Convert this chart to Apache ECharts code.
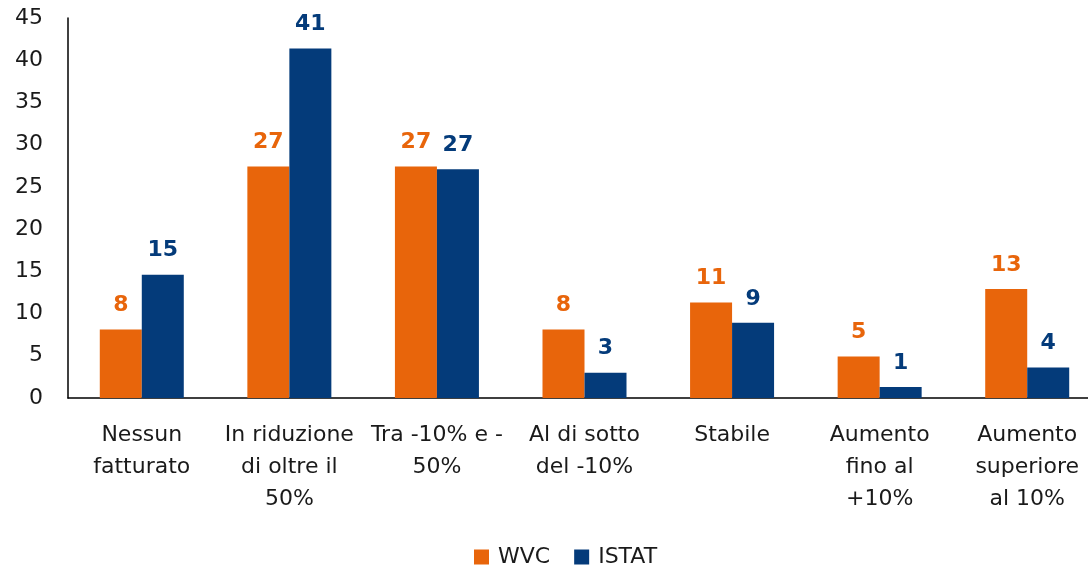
<!DOCTYPE html>
<html><head><meta charset="utf-8">
<script src="https://cdn.jsdelivr.net/npm/echarts@6/dist/echarts.min.js"></script>
<style>html,body{margin:0;padding:0;background:#fff;overflow:hidden}body{width:1088px;height:565px}#c{width:1110px;height:565px}</style>
</head><body><div id="c"></div>
<script>
const categories = ["Nessun\nfatturato","In riduzione\ndi oltre il\n50%","Tra -10% e -\n50%","Al di sotto\ndel -10%","Stabile","Aumento\nfino al\n+10%","Aumento\nsuperiore\nal 10%"];
const wvc = [8.1, 27.4, 27.4, 8.1, 11.3, 4.9, 12.9];
const istat = [14.6, 41.4, 27.1, 3.0, 8.9, 1.3, 3.6];
const yTicks = {min: 0, max: 45, interval: 5};
const FONT = "'DejaVu Sans', sans-serif";
const chart = echarts.init(document.getElementById('c'));
chart.setOption({
  animation: false,
  textStyle: {fontFamily: FONT},
  grid: {left: 68, width: 1033, top: 18, height: 380, containLabel: false},
  legend: {
    top: 541, left: 469, itemWidth: 15, itemHeight: 15, itemGap: 24,
    icon: 'rect',
    textStyle: {fontSize: 22, color: '#1a1a1a', fontFamily: FONT, padding: [0,0,0,4]},
    data: ['WVC','ISTAT']
  },
  xAxis: {
    type: 'category', data: categories,
    axisLine: {lineStyle: {color: '#000', width: 1.5}},
    axisTick: {show: false},
    axisLabel: {fontSize: 22, color: '#1a1a1a', lineHeight: 32, margin: 21, interval: 0, fontFamily: FONT}
  },
  yAxis: {
    type: 'value', min: yTicks.min, max: yTicks.max, interval: yTicks.interval,
    axisLine: {show: true, lineStyle: {color: '#000', width: 1.5}},
    axisTick: {show: false},
    splitLine: {show: false},
    axisLabel: {fontSize: 22, color: '#1a1a1a', margin: 25, fontFamily: FONT}
  },
  series: [
    {name: 'WVC', type: 'bar', data: wvc, barWidth: 42, barGap: '0%',
     itemStyle: {color: '#E8650B'},
     label: {show: true, position: 'top', distance: 13, fontSize: 22, fontWeight: 'bold', color: '#E8650B', fontFamily: FONT,
       formatter: p => Math.round(p.value)}},
    {name: 'ISTAT', type: 'bar', data: istat, barWidth: 42,
     itemStyle: {color: '#043B7A'},
     label: {show: true, position: 'top', distance: 13, fontSize: 22, fontWeight: 'bold', color: '#043B7A', fontFamily: FONT,
       formatter: p => Math.round(p.value)}}
  ]
});
</script></body></html>
